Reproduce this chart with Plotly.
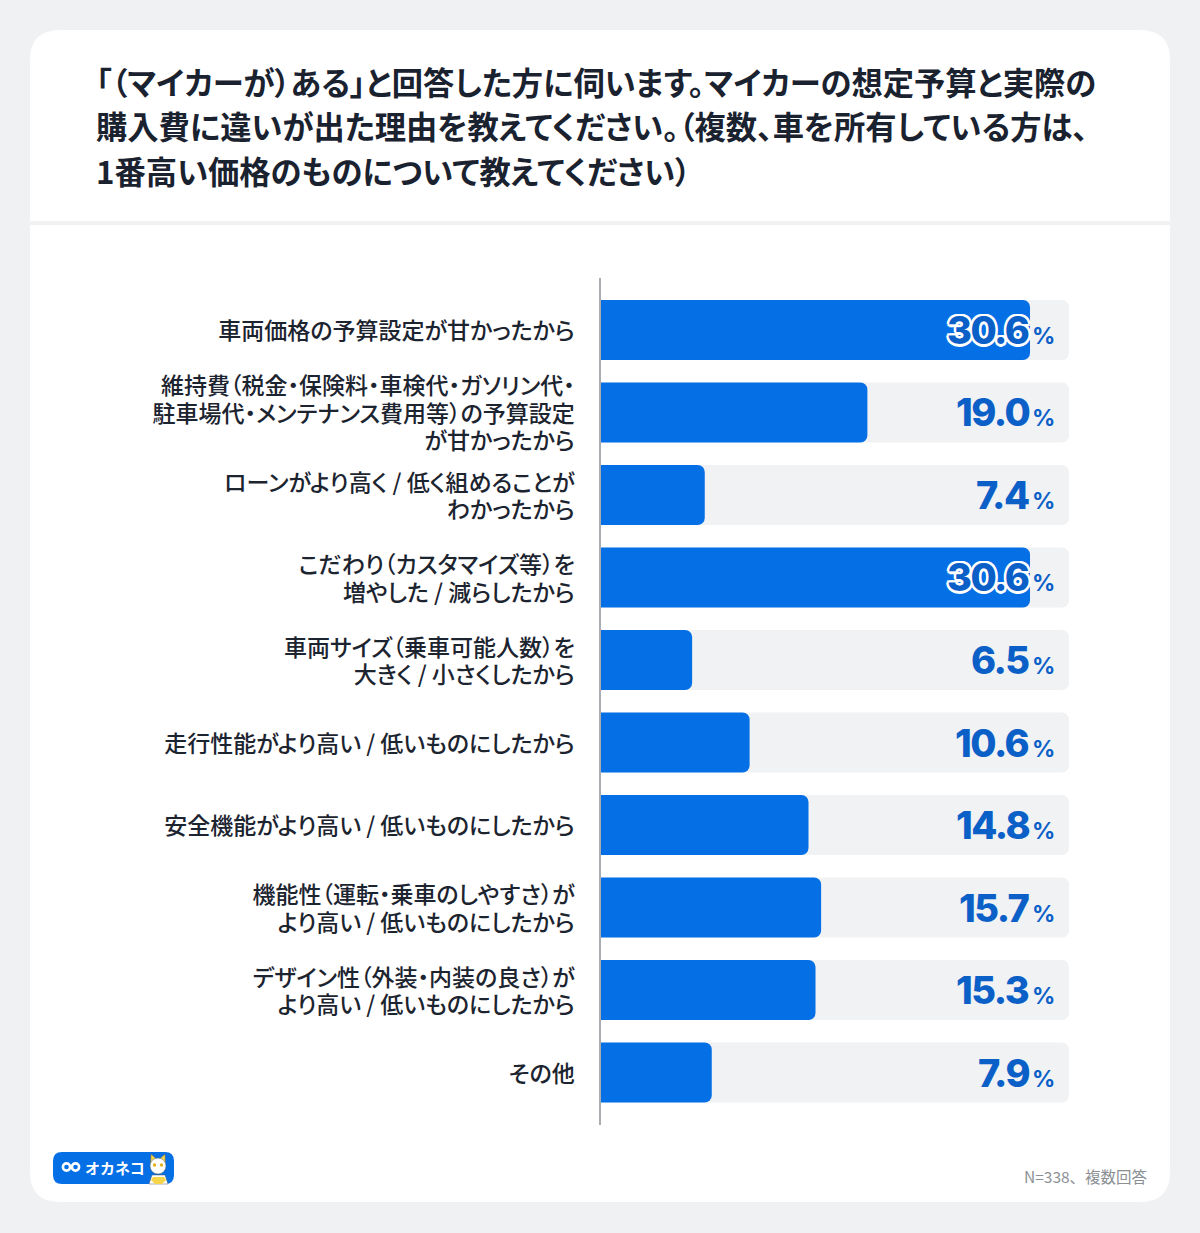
import plotly.graph_objects as go

W, H = 1200, 1233
title_lines = [
    "「（マイカーが）ある」と回答した方に伺います。マイカーの想定予算と実際の",
    "購入費に違いが出た理由を教えてください。（複数、車を所有している方は、",
    "1番高い価格のものについて教えてください）",
]
categories = [
    "車両価格の予算設定が甘かったから",
    "維持費（税金・保険料・車検代・ガソリン代・<br>駐車場代・メンテナンス費用等）の予算設定<br>が甘かったから",
    "ローンがより高く / 低く組めることが<br>わかったから",
    "こだわり（カスタマイズ等）を<br>増やした / 減らしたから",
    "車両サイズ（乗車可能人数）を<br>大きく / 小さくしたから",
    "走行性能がより高い / 低いものにしたから",
    "安全機能がより高い / 低いものにしたから",
    "機能性（運転・乗車のしやすさ）が<br>より高い / 低いものにしたから",
    "デザイン性（外装・内装の良さ）が<br>より高い / 低いものにしたから",
    "その他",
]
values = [30.6, 19.0, 7.4, 30.6, 6.5, 10.6, 14.8, 15.7, 15.3, 7.9]
track_max = 33.38
note = "N=338、複数回答"

JP = "Noto Sans CJK JP"
NUM = "Inter"
BLUE = "#0570e6"
VAL = "#0b60c8"
TXT = "#1c2430"

def px(x): return x / W
def py(y): return 1 - y / H

def palt(s, size=None):
    fs = f";font-size:{size}px" if size else ""
    return "<br>".join(f"<span style=\"font-feature-settings:'palt'{fs}\">{ln}</span>" for ln in s.split("<br>"))

def tight(s, sp):
    return f"<span style=\"letter-spacing:{sp}px\">{s}</span>"

def rrect(x0, y0, x1, y1, r):
    return (f"M{px(x0+r)},{py(y0)} L{px(x1-r)},{py(y0)} Q{px(x1)},{py(y0)} {px(x1)},{py(y0+r)} "
            f"L{px(x1)},{py(y1-r)} Q{px(x1)},{py(y1)} {px(x1-r)},{py(y1)} "
            f"L{px(x0+r)},{py(y1)} Q{px(x0)},{py(y1)} {px(x0)},{py(y1-r)} "
            f"L{px(x0)},{py(y0+r)} Q{px(x0)},{py(y0)} {px(x0+r)},{py(y0)} Z")

def poly(pts):
    return "M" + " L".join(f"{px(a)},{py(b)}" for a, b in pts) + " Z"

def circ(cx, cy, r, fill, line=None, lw=0):
    return dict(type="circle", xref="paper", yref="paper", x0=px(cx-r), x1=px(cx+r), y0=py(cy+r), y1=py(cy-r),
                fillcolor=fill, line=dict(color=line or "rgba(0,0,0,0)", width=lw), layer="above")

def pshape(path, fill, line=None, lw=0):
    return dict(type="path", xref="paper", yref="paper", path=path, fillcolor=fill,
                line=dict(color=line or "rgba(0,0,0,0)", width=lw), layer="above")

fig = go.Figure()
fig.add_bar(y=categories, x=[track_max] * len(values), orientation="h", xaxis="x", yaxis="y",
            marker=dict(color="#f1f2f4", line_width=0, cornerradius=7), hoverinfo="skip", showlegend=False)
fig.add_bar(y=categories, x=values, orientation="h", xaxis="x2", yaxis="y",
            marker=dict(color=BLUE, line_width=0, cornerradius=7), showlegend=False)

shapes = [
    dict(type="path", xref="paper", yref="paper", path=rrect(30, 30, 1170, 1202, 30),
         fillcolor="white", line_width=0, layer="below"),
    dict(type="rect", xref="paper", yref="paper", x0=px(30), x1=px(1170), y0=py(225), y1=py(221),
         fillcolor="#f1f2f4", line_width=0, layer="below"),
    pshape(rrect(53, 1152, 174, 1184, 9), BLUE),
    circ(66.5, 1167, 3.6, "rgba(0,0,0,0)", "white", 2.6),
    circ(75.5, 1167, 3.6, "rgba(0,0,0,0)", "white", 2.6),
    # small cat mark in the logo
    pshape(poly([(152, 1175), (165, 1175), (168, 1184), (149, 1184)]), "white", "#555b63", 0.5),
    pshape(poly([(150.5, 1164), (151, 1154), (156, 1158.5)]), "#f7d54a", "#555b63", 0.5),
    pshape(poly([(165.5, 1164), (165, 1154), (160, 1158.5)]), "#f7d54a", "#555b63", 0.5),
    circ(158, 1166, 8, "white", "#555b63", 0.5),
    circ(154.5, 1165, 1.7, "#e3b21c"),
    circ(161.5, 1165, 1.7, "#e3b21c"),
    pshape(poly([(153, 1177), (164, 1177), (166, 1180), (162, 1184), (155, 1184), (151, 1180)]), "#f7d54a"),
]

ann = []
tops = [81, 126, 171]
for t, yc in zip(title_lines, tops):
    ann.append(dict(xref="paper", yref="paper", x=px(94), y=py(yc), xanchor="left", yanchor="middle",
                    text=f"<b>{palt(t)}</b>", showarrow=False, font=dict(family=JP, size=31.3, color="#1a2230")))
halo = ",".join(f"{a}px {b}px 0 #fff" for a, b in
                [(2.5,0),(-2.5,0),(0,2.5),(0,-2.5),(1.8,1.8),(-1.8,1.8),(1.8,-1.8),(-1.8,-1.8)])
for c, v in zip(categories, values):
    f = dict(family=NUM, size=38, color=VAL, weight=800)
    if v >= 30:
        f["shadow"] = halo
    ann.append(dict(xref="x", yref="y", x=30.68, y=c, xanchor="right", yanchor="middle",
                    text=tight(f"{v:.1f}", -1.5), showarrow=False, font=f, yshift=0))
    ann.append(dict(xref="x", yref="y", x=32.31, y=c, xanchor="right", yanchor="middle",
                    text="%", showarrow=False, font=dict(family=NUM, size=23, color=VAL, weight=700),
                    xshift=3, yshift=-6))
ann.append(dict(xref="paper", yref="paper", x=px(1150), y=py(1176), xanchor="right", yanchor="middle",
                text=note, showarrow=False, font=dict(family=JP, size=15.5, color="#8b8f94")))
ann.append(dict(xref="paper", yref="paper", x=px(83), y=py(1167.5), xanchor="left", yanchor="middle",
                text="<b>オカネコ</b>", showarrow=False, font=dict(family=JP, size=15, color="white")))

xax = dict(domain=[px(601), px(1069)], range=[0, track_max], visible=False, fixedrange=True)
fig.update_layout(
    width=W, height=H, margin=dict(l=0, r=0, t=0, b=0), autosize=False,
    paper_bgcolor="#f0f1f3", plot_bgcolor="rgba(0,0,0,0)",
    barmode="overlay", bargap=22.5 / 82.5,
    shapes=shapes, annotations=ann,
    font=dict(family=JP, color=TXT),
    xaxis=xax,
    xaxis2=dict(xax, overlaying="x", anchor="y"),
    yaxis=dict(domain=[py(1125), py(278)], range=[9.636, -0.63], type="category",
               categoryorder="array", categoryarray=categories,
               tickvals=categories, ticktext=[palt(c, 23) for c in categories],
               showgrid=False, zeroline=False, showline=True, linecolor="#a9adb2", linewidth=2,
               ticks="outside", ticklen=20, tickcolor="rgba(0,0,0,0)", tickwidth=0,
               ticklabelshift=-2,
               tickfont=dict(family=JP, size=21.2, color=TXT, weight=500), fixedrange=True),
)
fig.write_html("out.html", config=dict(displayModeBar=False),
               post_script="document.body.style.margin='0';document.body.style.background='#f0f1f3';")
